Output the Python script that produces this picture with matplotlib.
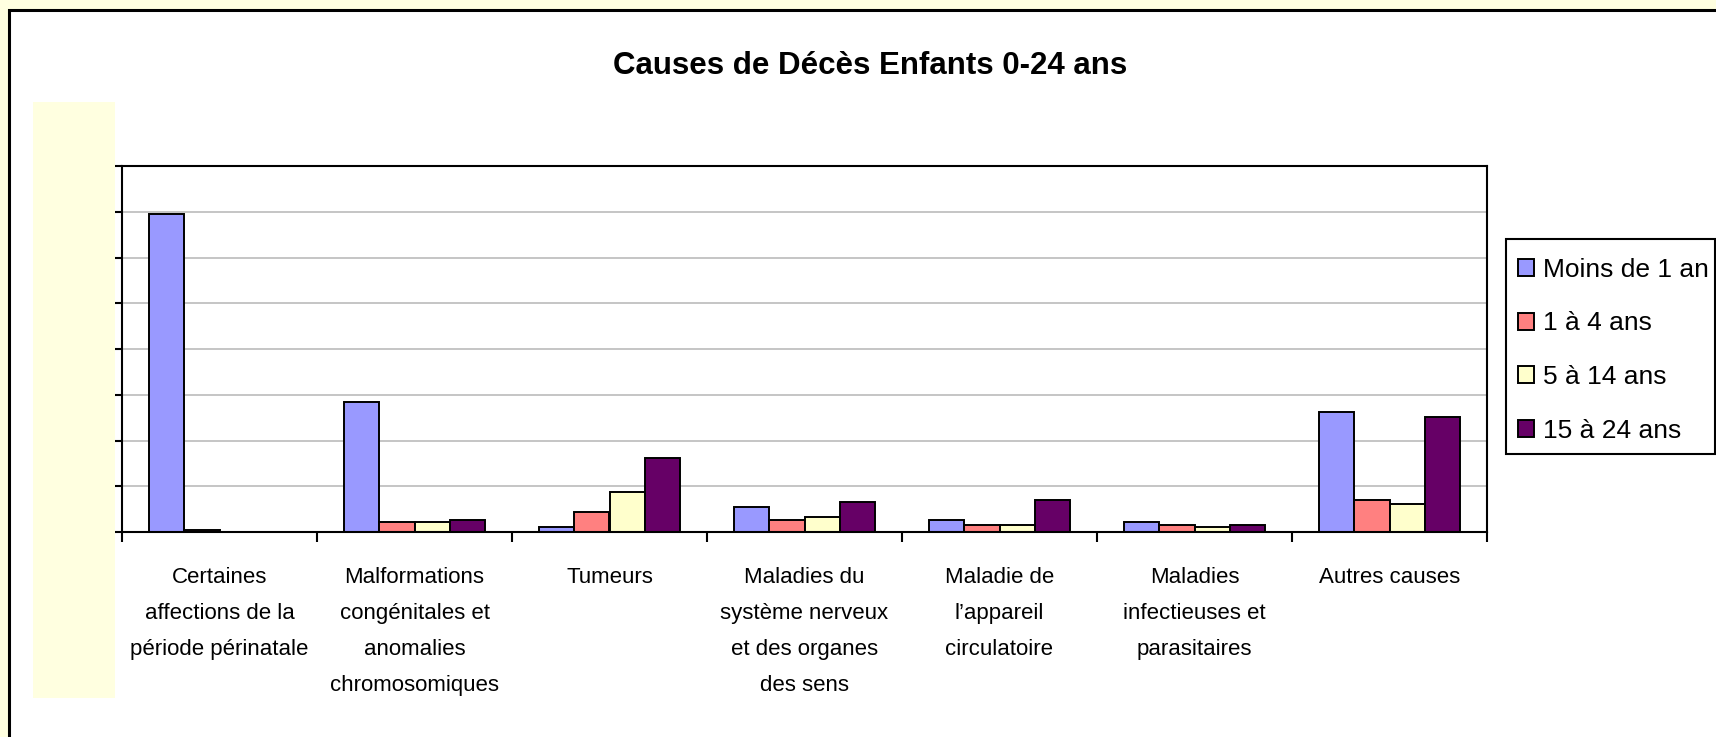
import matplotlib.pyplot as plt
import numpy as np
from matplotlib.patches import Rectangle

plt.rcParams["font.family"] = ["Liberation Sans", "DejaVu Sans"]

# categories and series (values read in gridline units, y axis has no labels)
categories = [
    "Certaines\naffections de la\npériode périnatale",
    "Malformations\ncongénitales et\nanomalies\nchromosomiques",
    "Tumeurs",
    "Maladies du\nsystème nerveux\net des organes\ndes sens",
    "Maladie de\nl’appareil\ncirculatoire",
    "Maladies\ninfectieuses et\nparasitaires",
    "Autres causes",
]
series_names = ["Moins de 1 an", "1 à 4 ans", "5 à 14 ans", "15 à 24 ans"]
moins_1 = [6.94, 2.85, 0.10, 0.54, 0.27, 0.21, 2.63]
ans_1_4 = [0.05, 0.21, 0.44, 0.27, 0.16, 0.16, 0.71]
ans_5_14 = [0.0, 0.21, 0.88, 0.32, 0.16, 0.11, 0.61]
ans_15_24 = [0.0, 0.27, 1.62, 0.66, 0.71, 0.16, 2.52]
colors = ["#9999FF", "#FF8080", "#FFFFCC", "#660066"]

W, H = 1716, 737
fig = plt.figure(figsize=(W / 100, H / 100), dpi=100, facecolor="#FFFFE0")

# white chart area with black frame (runs off the right and bottom)
frame = Rectangle((9 / W, -0.05), 1.1, (H - 10) / H + 0.05, transform=fig.transFigure,
                  facecolor="white", edgecolor="black", linewidth=2.2, zorder=0)
fig.add_artist(frame)
# pale box hiding the value axis labels
fig.add_artist(Rectangle((33 / W, (H - 698) / H), 82 / W, 596 / H,
                         transform=fig.transFigure, facecolor="#FFFFE0",
                         edgecolor="none", zorder=1))

ax = fig.add_axes([122 / W, (H - 532) / H, 1365 / W, 366 / H])
ax.set_facecolor("white")

x = np.arange(len(categories))
bw = 1 / 5.5
data = [moins_1, ans_1_4, ans_5_14, ans_15_24]
for i, (vals, name, c) in enumerate(zip(data, series_names, colors)):
    ax.bar(x + (i - 1.5) * bw, vals, width=bw, color=c, edgecolor="black",
           linewidth=1.4, label=name)

ax.set_xlim(-0.5, len(categories) - 0.5)
ax.set_ylim(0, 8)
ax.set_yticks(np.arange(0, 9, 1))
ax.set_yticklabels([])
ax.yaxis.grid(True, color="#C0C0C0", linewidth=1.3)
ax.set_axisbelow(True)
for s in ax.spines.values():
    s.set_linewidth(1.5)
    s.set_color("black")

ax.set_xticks(np.arange(-0.5, len(categories), 1))
ax.set_xticklabels([])
ax.set_xticks(x, minor=True)
ax.set_xticklabels(categories, minor=True, fontsize=16, linespacing=1.95, va="top")
ax.tick_params(axis="x", which="major", direction="out", length=7, width=1.5)
ax.tick_params(axis="x", which="minor", length=0, pad=25)
ax.tick_params(axis="y", direction="out", length=7, width=1.5)

fig.text(870 / W, (H - 66) / H, "Causes de Décès Enfants 0-24 ans", ha="center",
         va="center", fontsize=22.5, fontweight="bold")

# legend box drawn separately so the entries can sit lower in it
fig.add_artist(Rectangle((1506 / W, (H - 454) / H), 209 / W, 215 / H,
                         transform=fig.transFigure, facecolor="white",
                         edgecolor="black", linewidth=1.5, zorder=2))
leg = fig.legend(loc="upper left", bbox_to_anchor=(1506 / W, (H - 246) / H),
                 fontsize=19, frameon=False, borderpad=0.45, labelspacing=1.12,
                 handlelength=0.62, handleheight=0.62, handletextpad=0.34,
                 borderaxespad=0)
leg.set_zorder(3)

fig.savefig("out.png", dpi=100, facecolor=fig.get_facecolor())
